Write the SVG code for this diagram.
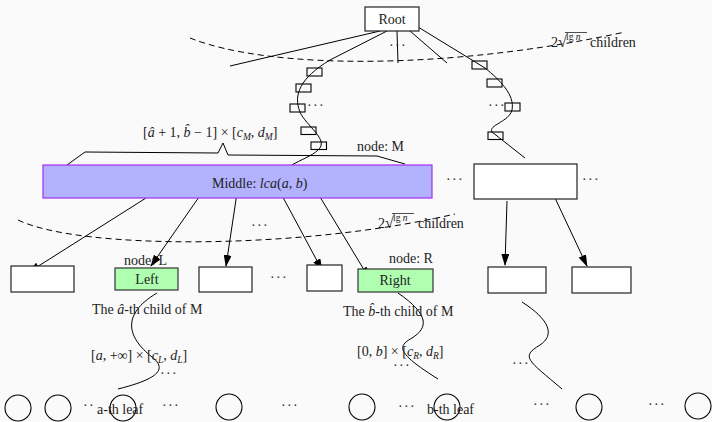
<svg xmlns="http://www.w3.org/2000/svg" width="712" height="422" viewBox="0 0 712 422">
<style>
text{font-family:"Liberation Serif","DejaVu Serif",serif;font-size:14px;fill:#222}
.it{font-style:italic}
.sub{font-size:9.5px;font-style:italic}
.dots{letter-spacing:1.4px;fill:#333}
.box{fill:#fff;stroke:#222;stroke-width:1.2}
.green{fill:#b0ffb0;stroke:#333;stroke-width:1.2}
.ln{fill:none;stroke:#000;stroke-width:1}
.dash{fill:none;stroke:#000;stroke-width:1;stroke-dasharray:6,4}
.arr{fill:none;stroke:#000;stroke-width:1;marker-end:url(#ah)}
.leaf{fill:none;stroke:#000;stroke-width:1.1}
.sm{fill:none;stroke:#000;stroke-width:1.1}
</style>
<defs>
<marker id="ah" markerUnits="userSpaceOnUse" markerWidth="12" markerHeight="8" refX="11" refY="4" orient="auto">
<path d="M0,0 L12,4 L0,8 z" fill="#000"/>
</marker>
</defs>
<rect x="0" y="0" width="712" height="422" fill="#fafafa"/>

<g id="connectors">
<path class="ln" d="M380,31 L230,66"/>
<path class="ln" d="M387,31 L330,60 C300,78 293,95 300,112 C306,126 330,140 318,150 C312,156 300,160 292,165"/>
<path class="ln" d="M397,31 L398,63"/>
<path class="ln" d="M410,31 L447,63"/>
<path class="ln" d="M418,27 L485,68 C500,80 515,95 512,110 C509,122 488,125 492,132 L525,158"/>
<path class="dash" d="M190,38 C270,70 450,70 625,32"/>
<path class="dash" d="M18,220 C80,250 300,250 455,214"/>
<polyline class="ln" points="67,165 85,152 218,153 223,143 228,155 377,156 405,164"/>
<path class="arr" d="M146,198 L29,272"/>
<path class="arr" d="M199,197 L151,266"/>
<path class="arr" d="M237,193 L226,266"/>
<path class="arr" d="M278,188 L322,270"/>
<path class="arr" d="M314,187 L369,278"/>
<path class="arr" d="M507,201 L505,265"/>
<path class="arr" d="M555,198 L587,266"/>
<path class="ln" d="M157,293 C120,315 128,338 152,357 C166,368 162,378 118,389"/>
<path class="ln" d="M398,293 C430,315 428,328 412,338 C398,346 395,352 438,379"/>
<path class="ln" d="M522,302 C550,320 555,335 540,345 C520,357 528,360 562,389"/>
</g>

<g id="root">
<rect class="box" x="365" y="7" width="54" height="24"/>
<text x="392" y="24" text-anchor="middle">Root</text>
</g>

<g id="chain-left">
<rect class="sm" x="307" y="68" width="15" height="8"/>
<rect class="sm" x="296" y="84" width="15" height="8"/>
<rect class="sm" x="290" y="104" width="15" height="8"/>
<text class="dots" x="307" y="110">···</text>
<rect class="sm" x="301" y="127" width="15" height="7.5"/>
<rect class="sm" x="311" y="142" width="15.5" height="7.5"/>
<text class="dots" x="389" y="50">···</text>
</g>

<g id="chain-right">
<rect class="sm" x="472" y="61" width="15" height="8"/>
<rect class="sm" x="487" y="79" width="15" height="8"/>
<text class="dots" x="488" y="110">···</text>
<rect class="sm" x="505" y="103" width="15" height="8"/>
<rect class="sm" x="488" y="132" width="15" height="7.5"/>
</g>

<g id="label-children-top">
<text x="551" y="47">2<tspan font-size="16">√</tspan></text>
<line x1="565" y1="32.5" x2="587" y2="32.5" stroke="#222" stroke-width="0.8"/>
<text x="566" y="40" style="font-size:9.5px">lg <tspan class="it">n</tspan></text>
<text x="590" y="47">children</text>
</g>

<g id="brace-label">
<text x="143" y="137">[<tspan class="it">â</tspan> + 1, <tspan class="it">b̂</tspan> − 1] × [<tspan class="it">c</tspan><tspan class="sub" dy="3">M</tspan><tspan dy="-3">, </tspan><tspan class="it">d</tspan><tspan class="sub" dy="3">M</tspan><tspan dy="-3">]</tspan></text>
<text x="357" y="151">node:  M</text>
</g>

<g id="middle">
<rect x="43" y="165" width="389" height="33" fill="#b2b2ff" stroke="#a030f0" stroke-width="1.2"/>
<text x="212" y="188">Middle: <tspan class="it">lca</tspan>(<tspan class="it">a</tspan>, <tspan class="it">b</tspan>)</text>
<text class="dots" x="446" y="184">···</text>
</g>

<g id="sibling">
<rect class="box" x="474" y="164" width="103" height="35"/>
<text class="dots" x="582" y="184">···</text>
</g>

<g id="label-children-mid">
<text class="dots" x="251" y="230">···</text>
<text x="378" y="228">2<tspan font-size="16">√</tspan></text>
<line x1="392" y1="213.5" x2="414" y2="213.5" stroke="#222" stroke-width="0.8"/>
<text x="393" y="221" style="font-size:9.5px">lg <tspan class="it">n</tspan></text>
<text x="418" y="228">children</text>
</g>

<g id="box1"><rect class="box" x="11" y="266" width="63" height="26"/></g>
<g id="left">
<text x="124" y="265">node: L</text>
<rect class="green" x="115" y="268" width="63" height="22"/>
<text x="147" y="284" text-anchor="middle">Left</text>
<text x="92" y="314">The <tspan class="it">â</tspan>-th child of M</text>
</g>
<g id="box3"><rect class="box" x="199" y="267" width="53" height="25"/></g>
<text class="dots" x="270" y="282">···</text>
<g id="box4"><rect class="box" x="307" y="265" width="35" height="26"/></g>
<g id="right">
<text x="389" y="263">node:  R</text>
<rect class="green" x="358" y="269" width="75" height="23"/>
<text x="395" y="285" text-anchor="middle">Right</text>
<text x="343" y="316">The <tspan class="it">b̂</tspan>-th child of M</text>
</g>
<g id="box6"><rect class="box" x="488" y="267" width="58" height="26"/></g>
<g id="box7"><rect class="box" x="572" y="267" width="59" height="26"/></g>

<g id="ranges">
<text x="91" y="360">[<tspan class="it">a</tspan>, +∞] × [<tspan class="it">c</tspan><tspan class="sub" dy="3">L</tspan><tspan dy="-3">, </tspan><tspan class="it">d</tspan><tspan class="sub" dy="3">L</tspan><tspan dy="-3">]</tspan></text>
<text class="dots" x="160" y="378">···</text>
<text x="357" y="356">[0, <tspan class="it">b</tspan>] × [<tspan class="it">c</tspan><tspan class="sub" dy="3">R</tspan><tspan dy="-3">, </tspan><tspan class="it">d</tspan><tspan class="sub" dy="3">R</tspan><tspan dy="-3">]</tspan></text>
<text class="dots" x="393" y="370">···</text>
<text class="dots" x="512" y="368">···</text>
</g>

<g id="leaves">
<circle class="leaf" cx="18" cy="408" r="13"/>
<circle class="leaf" cx="58" cy="408" r="13"/>
<text class="dots" x="83" y="410" letter-spacing="0.8">··</text>
<circle class="leaf" cx="123" cy="408" r="13"/>
<text x="97" y="414">a-th leaf</text>
<text class="dots" x="162" y="410">···</text>
<circle class="leaf" cx="229" cy="407" r="13"/>
<text class="dots" x="281" y="410">···</text>
<circle class="leaf" cx="362" cy="407" r="13"/>
<text class="dots" x="398" y="411">···</text>
<circle class="leaf" cx="447" cy="407" r="13"/>
<text x="427" y="414">b-th leaf</text>
<text class="dots" x="533" y="409">···</text>
<circle class="leaf" cx="589" cy="407" r="13"/>
<text class="dots" x="648" y="409">···</text>
<circle class="leaf" cx="698" cy="406" r="13"/>
</g>
</svg>
